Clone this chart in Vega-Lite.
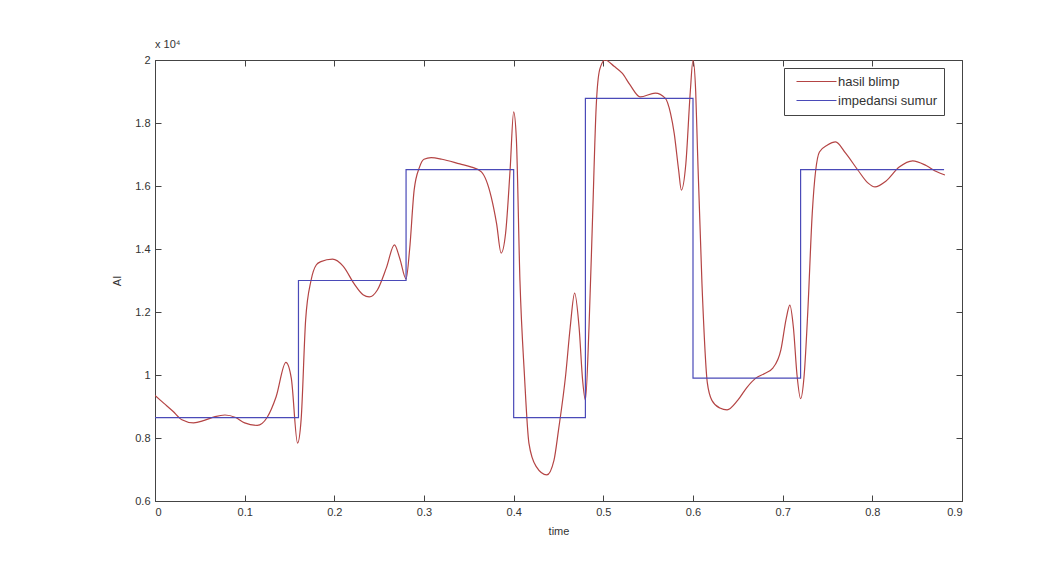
{
  "$schema": "https://vega.github.io/schema/vega-lite/v6.json",
  "width": 807,
  "height": 441,
  "autosize": {"type": "none"},
  "padding": {"left": 155, "top": 60, "right": 98, "bottom": 60},
  "background": "white",
  "title": {
    "text": "x 10⁴",
    "anchor": "start",
    "frame": "group",
    "fontSize": 11,
    "fontWeight": "normal",
    "font": "Liberation Sans",
    "color": "#333333",
    "offset": 4
  },
  "config": {
    "view": {"stroke": "#444444", "strokeWidth": 1},
    "axis": {
      "labelFont": "Liberation Sans",
      "titleFont": "Liberation Sans",
      "labelFontSize": 11,
      "titleFontSize": 11,
      "titleFontWeight": "normal",
      "labelColor": "#333333",
      "titleColor": "#333333",
      "domainColor": "#444444",
      "tickColor": "#444444",
      "tickSize": -6,
      "grid": false
    }
  },
  "datasets": {
    "blimp": [
      {"time": 0.000, "value": 9350}, {"time": 0.010, "value": 9100}, {"time": 0.020, "value": 8850},
      {"time": 0.030, "value": 8580}, {"time": 0.043, "value": 8480}, {"time": 0.055, "value": 8560},
      {"time": 0.067, "value": 8680}, {"time": 0.078, "value": 8730}, {"time": 0.090, "value": 8650},
      {"time": 0.100, "value": 8480}, {"time": 0.114, "value": 8400}, {"time": 0.125, "value": 8650},
      {"time": 0.135, "value": 9300}, {"time": 0.146, "value": 10400}, {"time": 0.152, "value": 9900},
      {"time": 0.159, "value": 7840}, {"time": 0.163, "value": 8600}, {"time": 0.168, "value": 11750},
      {"time": 0.174, "value": 13000}, {"time": 0.180, "value": 13500}, {"time": 0.185, "value": 13600},
      {"time": 0.198, "value": 13680}, {"time": 0.210, "value": 13450}, {"time": 0.222, "value": 12900},
      {"time": 0.232, "value": 12550}, {"time": 0.239, "value": 12480}, {"time": 0.248, "value": 12700},
      {"time": 0.258, "value": 13400}, {"time": 0.267, "value": 14130}, {"time": 0.273, "value": 13700},
      {"time": 0.280, "value": 13050}, {"time": 0.284, "value": 14000}, {"time": 0.289, "value": 15870},
      {"time": 0.295, "value": 16600}, {"time": 0.300, "value": 16850}, {"time": 0.308, "value": 16900},
      {"time": 0.320, "value": 16850}, {"time": 0.340, "value": 16700}, {"time": 0.353, "value": 16600},
      {"time": 0.364, "value": 16450}, {"time": 0.375, "value": 15650}, {"time": 0.381, "value": 14800},
      {"time": 0.386, "value": 13870}, {"time": 0.391, "value": 14500}, {"time": 0.396, "value": 16500},
      {"time": 0.400, "value": 18350}, {"time": 0.403, "value": 17500}, {"time": 0.407, "value": 13000},
      {"time": 0.412, "value": 10000}, {"time": 0.417, "value": 7840}, {"time": 0.425, "value": 7100},
      {"time": 0.437, "value": 6830}, {"time": 0.445, "value": 7300}, {"time": 0.450, "value": 8250},
      {"time": 0.458, "value": 10000}, {"time": 0.463, "value": 11500}, {"time": 0.468, "value": 12600},
      {"time": 0.473, "value": 11500}, {"time": 0.477, "value": 9800}, {"time": 0.480, "value": 9200},
      {"time": 0.484, "value": 11500}, {"time": 0.488, "value": 15000}, {"time": 0.492, "value": 18500},
      {"time": 0.496, "value": 19700}, {"time": 0.502, "value": 20000}, {"time": 0.512, "value": 19800},
      {"time": 0.521, "value": 19580}, {"time": 0.530, "value": 19200}, {"time": 0.541, "value": 18830},
      {"time": 0.558, "value": 18950}, {"time": 0.569, "value": 18790}, {"time": 0.575, "value": 18300},
      {"time": 0.579, "value": 17680}, {"time": 0.584, "value": 16500}, {"time": 0.587, "value": 15870},
      {"time": 0.592, "value": 16700}, {"time": 0.597, "value": 19000}, {"time": 0.600, "value": 20000},
      {"time": 0.603, "value": 19000}, {"time": 0.605, "value": 17140}, {"time": 0.610, "value": 12900},
      {"time": 0.616, "value": 9750}, {"time": 0.621, "value": 9200}, {"time": 0.630, "value": 8950},
      {"time": 0.638, "value": 8890}, {"time": 0.650, "value": 9200}, {"time": 0.660, "value": 9600},
      {"time": 0.670, "value": 9900}, {"time": 0.680, "value": 10050}, {"time": 0.689, "value": 10220},
      {"time": 0.698, "value": 10800}, {"time": 0.704, "value": 11800}, {"time": 0.708, "value": 12220},
      {"time": 0.712, "value": 11500}, {"time": 0.716, "value": 10000}, {"time": 0.720, "value": 9250},
      {"time": 0.724, "value": 10000}, {"time": 0.728, "value": 12000}, {"time": 0.733, "value": 15140},
      {"time": 0.741, "value": 17080}, {"time": 0.750, "value": 17300}, {"time": 0.759, "value": 17400},
      {"time": 0.770, "value": 17050}, {"time": 0.784, "value": 16500}, {"time": 0.795, "value": 16100},
      {"time": 0.803, "value": 15970}, {"time": 0.815, "value": 16150}, {"time": 0.830, "value": 16600},
      {"time": 0.845, "value": 16800}, {"time": 0.860, "value": 16650}, {"time": 0.872, "value": 16450},
      {"time": 0.881, "value": 16350}
    ],
    "sumur": [
      {"time": 0.00, "value": 8650},
      {"time": 0.16, "value": 13000},
      {"time": 0.28, "value": 16520},
      {"time": 0.40, "value": 8650},
      {"time": 0.48, "value": 18780},
      {"time": 0.60, "value": 9900},
      {"time": 0.72, "value": 16520},
      {"time": 0.88, "value": 16520}
    ]
  },
  "layer": [
    {
      "data": {"name": "blimp"},
      "transform": [{"calculate": "'hasil blimp'", "as": "series"}],
      "mark": {"type": "line", "interpolate": "monotone", "strokeWidth": 1.2, "clip": true},
      "encoding": {
        "x": {
          "field": "time", "type": "quantitative",
          "scale": {"domain": [0, 0.9], "nice": false, "zero": false},
          "axis": {
            "orient": "bottom", "title": "time", "titlePadding": 8,
            "values": [0, 0.1, 0.2, 0.3, 0.4, 0.5, 0.6, 0.7, 0.8, 0.9],
            "labelExpr": "'' + datum.value", "labelPadding": 11
          }
        },
        "y": {
          "field": "value", "type": "quantitative",
          "scale": {"domain": [6000, 20000], "nice": false, "zero": false},
          "axis": {
            "orient": "left", "title": "AI", "titlePadding": 12,
            "values": [6000, 8000, 10000, 12000, 14000, 16000, 18000, 20000],
            "labelExpr": "'' + (datum.value / 10000)", "labelPadding": 11
          }
        },
        "color": {
          "field": "series", "type": "nominal",
          "scale": {"domain": ["hasil blimp", "impedansi sumur"], "range": ["#b44444", "#4a4ab8"]},
          "legend": {
            "orient": "none", "legendX": 629, "legendY": 8,
            "title": null,
            "symbolType": "M-4,0H4", "symbolSize": 100, "symbolStrokeWidth": 1.2,
            "symbolOffset": 19,
            "labelFont": "Liberation Sans", "labelFontSize": 13, "labelColor": "#333333",
            "strokeColor": "#444444", "fillColor": "white", "padding": 7,
            "rowPadding": 5, "labelOffset": 15
          }
        }
      }
    },
    {
      "data": {"name": "sumur"},
      "transform": [{"calculate": "'impedansi sumur'", "as": "series"}],
      "mark": {"type": "line", "interpolate": "step-after", "strokeWidth": 1.2, "clip": true},
      "encoding": {
        "x": {
          "field": "time", "type": "quantitative",
          "axis": {
            "orient": "top", "title": null, "labels": false, "domain": false,
            "values": [0, 0.1, 0.2, 0.3, 0.4, 0.5, 0.6, 0.7, 0.8, 0.9]
          }
        },
        "y": {
          "field": "value", "type": "quantitative",
          "axis": {
            "orient": "right", "title": null, "labels": false, "domain": false,
            "values": [6000, 8000, 10000, 12000, 14000, 16000, 18000, 20000]
          }
        },
        "color": {"field": "series", "type": "nominal"}
      }
    }
  ],
  "resolve": {"axis": {"x": "independent", "y": "independent"}}
}
